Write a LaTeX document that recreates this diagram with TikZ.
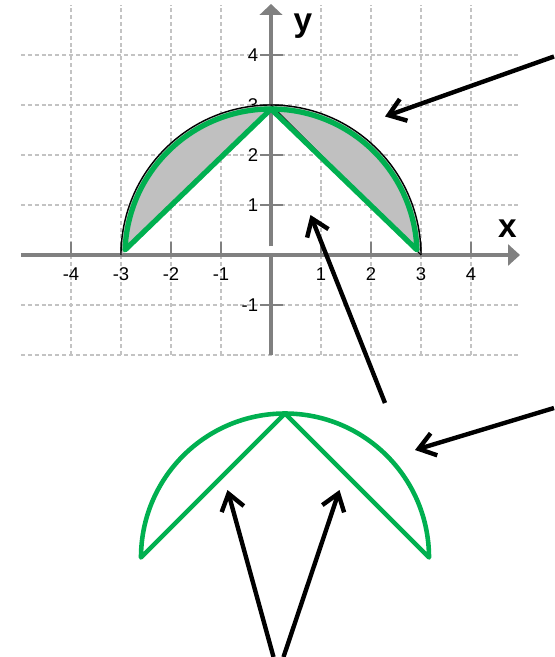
\documentclass[tikz,border=0pt]{standalone}
\usepackage{fontspec}
\setmainfont{Liberation Sans}
\usetikzlibrary{arrows.meta}
\definecolor{linegreen}{RGB}{0,176,80}
\definecolor{axisgray}{RGB}{128,128,128}
\definecolor{gridgray}{RGB}{195,195,195}
\definecolor{fillgray}{RGB}{192,192,192}

\begin{document}
\begin{tikzpicture}[
  gridline/.style={gridgray, line width=0.9pt, dash pattern=on 2.3pt off 1.6pt},
  axisline/.style={axisgray, line width=2.6pt},
  pointer/.style={line width=2.5pt, -{Straight Barb[length=3.2mm,width=4.6mm]}},
  ticklabel/.style={font=\fontsize{10.5}{12}\selectfont, inner sep=0pt},
  shapeline/.style={linegreen, line width=3pt, line join=round}
]
  \useasboundingbox (-5.42,-8.04) rectangle (5.66,5.1);
  % grid
  \foreach \y in {-2,-1,1,2,3,4}
    \draw[gridline] (-5,\y) -- (5,\y);
  \foreach \x in {-4,...,-1,1,2,3,4}
    \draw[gridline] (\x,-2) -- (\x,5);
  % axes
  \draw[axisline, -{Triangle[length=2.4mm,width=4.2mm]}] (-5,0) -- (4.98,0);
  \draw[axisline] (0,-2) -- (0,0);
  \draw[axisline, -{Triangle[length=2.2mm,width=4.5mm]}] (0,0.17) -- (0,5.02);
  \foreach \x in {-4,...,-1,1,2,3,4} {
    \draw[axisgray, line width=1.6pt] (\x,0) -- (\x,0.25);
    \node[ticklabel] at (\x,-0.38) {\x};
  }
  \foreach \y in {-1,1,2,3,4} {
    \draw[axisgray, line width=1.6pt] (-0.23,\y) -- (0.23,\y);
    \node[ticklabel, anchor=east] at (-0.25,\y) {\y};
  }
  \node[font=\fontsize{19}{21}\selectfont\bfseries] at (4.73,0.53) {x};
  \node[font=\fontsize{19}{21}\selectfont\bfseries] at (0.64,4.58) {y};
  % shaded segments
  \fill[fillgray] (0,3) arc[start angle=90, end angle=180, radius=3] -- cycle;
  \fill[fillgray] (0,3) arc[start angle=90, end angle=0, radius=3] -- cycle;
  \draw[line width=0.8pt] (3,0) arc[start angle=0, end angle=180, radius=3];
  \draw[line width=0.6pt] (0,3) -- (3,0);
  \draw[shapeline] (178:2.92) arc[start angle=178, end angle=2, radius=2.92] -- (0,2.92) -- cycle;
  % shape below
  \begin{scope}[shift={(0.28,-6.05)}]
    \draw[shapeline, line width=2.6pt] (180:2.88) arc[start angle=180, end angle=0, radius=2.88] -- (90:2.88) -- cycle;
  \end{scope}
  % pointers
  \coordinate (segTail) at (5.66,3.97);
  \coordinate (segTip) at (2.28,2.77);
  \coordinate (triTail) at (2.28,-2.96);
  \coordinate (triTip) at (0.79,0.8);
  \coordinate (arcTail) at (5.66,-3.06);
  \coordinate (arcTip) at (2.88,-3.9);
  \coordinate (leftTail) at (0.05,-8.04);
  \coordinate (leftTip) at (-0.87,-4.7);
  \coordinate (rightTail) at (0.25,-8.04);
  \coordinate (rightTip) at (1.37,-4.7);
  \draw[pointer] (segTail) -- (segTip);
  \draw[pointer] (triTail) -- (triTip);
  \draw[pointer] (arcTail) -- (arcTip);
  \draw[pointer] (leftTail) -- (leftTip);
  \draw[pointer] (rightTail) -- (rightTip);
\end{tikzpicture}
\end{document}
